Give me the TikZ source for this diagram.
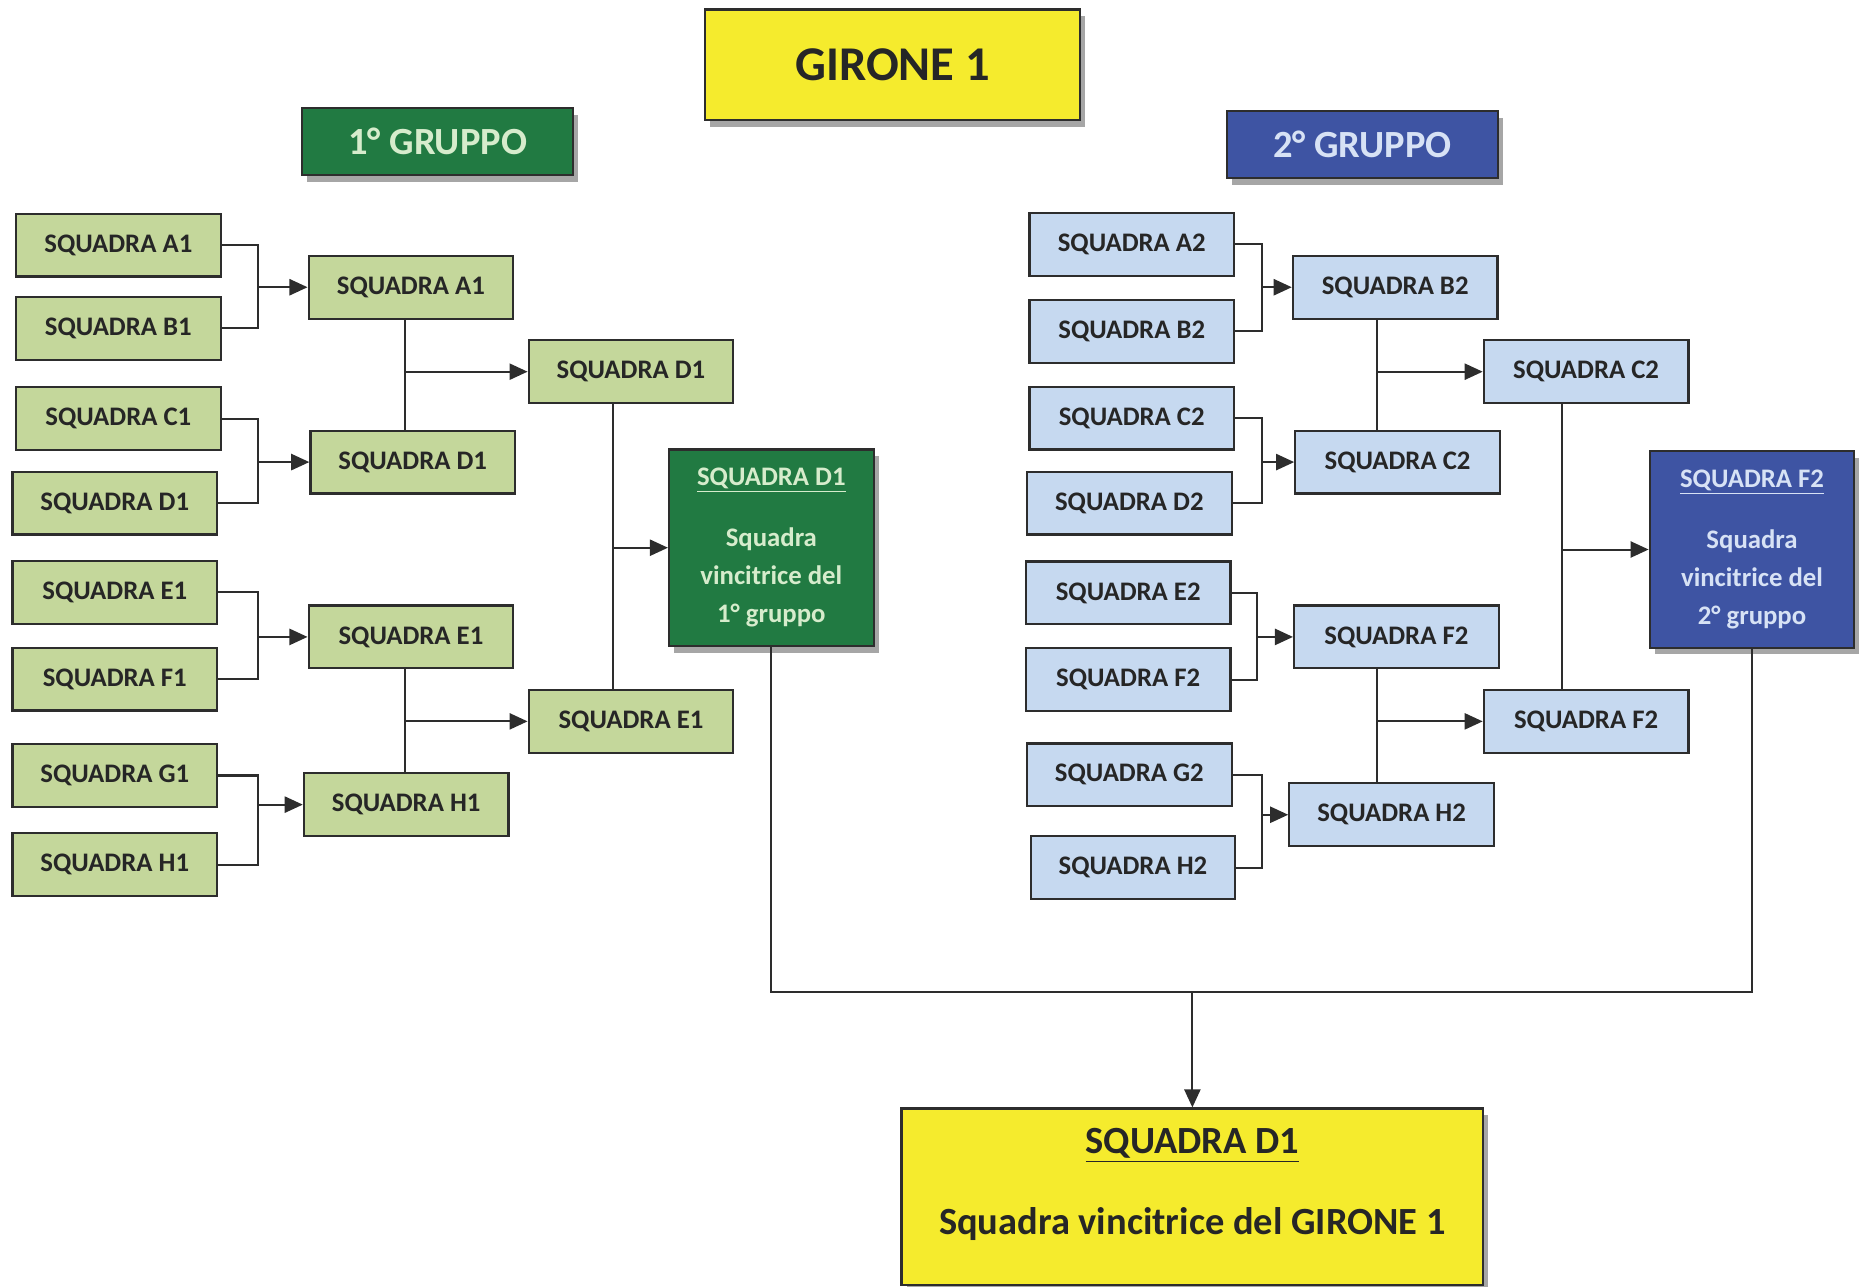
\documentclass[tikz,border=0pt]{standalone}
\usepackage{fontspec}
\setmainfont{Carlito}
\usetikzlibrary{arrows.meta, positioning, calc, shadows}
\definecolor{greenlight}{RGB}{196,215,155}
\definecolor{greendark}{RGB}{33,122,66}
\definecolor{bluelight}{RGB}{198,217,240}
\definecolor{bluedark}{RGB}{62,84,163}
\definecolor{titleyellow}{RGB}{245,235,45}
\definecolor{edgegray}{RGB}{45,45,45}
\definecolor{greentext}{RGB}{214,236,204}
\definecolor{bluetext}{RGB}{215,226,245}

\begin{document}
\begin{tikzpicture}[
        x=0.025cm, y=-0.025cm,
        box/.style={rectangle, draw=edgegray, line width=1.3pt, minimum width=4.3cm, minimum height=1.32cm, inner sep=0pt, align=center, font=\fontsize{16}{22.7}\selectfont\bfseries, text=black!85},
        boxg/.style={box, fill=greenlight},
        boxb/.style={box, fill=bluelight},
        winner/.style={box, minimum height=4.13cm, drop shadow={shadow xshift=3pt, shadow yshift=-4pt, fill=black, opacity=.35}},
        header/.style={box, minimum width=5.7cm, minimum height=1.4cm, font=\fontsize{23}{28}\selectfont\bfseries, drop shadow={shadow xshift=3pt, shadow yshift=-4pt, fill=black, opacity=.35}},
        link/.style={draw=edgegray, line width=1.2pt},
        arr/.style={link, -{Triangle[length=0.38cm, width=0.34cm]}}
    ]
        \useasboundingbox (0,0) rectangle (1568,1082);

        % titles
        \node[header, fill=titleyellow, minimum width=7.875cm, minimum height=2.325cm, font=\fontsize{29}{34}\selectfont\bfseries] (girone) at (750.5,54.5) {GIRONE 1};
        \node[header, fill=greendark, text=greentext] (gruppo1) at (368,119) {1° GRUPPO};
        \node[header, fill=bluedark, text=bluetext] (gruppo2) at (1145.5,121.5) {2° GRUPPO};

        % 1 gruppo
        \node[boxg] (la1) at (99.5,206) {SQUADRA A1};
        \node[boxg] (lb1) at (99.5,276) {SQUADRA B1};
        \node[boxg] (lc1) at (99.5,352) {SQUADRA C1};
        \node[boxg] (ld1) at (96.5,423) {SQUADRA D1};
        \node[boxg] (le1) at (96.5,498) {SQUADRA E1};
        \node[boxg] (lf1) at (96.5,571) {SQUADRA F1};
        \node[boxg] (lg1) at (96.5,652) {SQUADRA G1};
        \node[boxg] (lh1) at (96.5,727) {SQUADRA H1};

        \node[boxg] (ma1) at (345.5,241.5) {SQUADRA A1};
        \node[boxg] (md1) at (347,388.5) {SQUADRA D1};
        \node[boxg] (me1) at (345.5,535.5) {SQUADRA E1};
        \node[boxg] (mh1) at (341.5,676.5) {SQUADRA H1};

        \node[boxg] (nd1) at (530.5,312.5) {SQUADRA D1};
        \node[boxg] (ne1) at (530.5,606.5) {SQUADRA E1};

        \node[winner, fill=greendark, text=greentext] (vinc1) at (648.5,460.5) {\underline{SQUADRA D1}\\[14pt]Squadra\\vincitrice del\\1° gruppo};

        % 2 gruppo
        \node[boxb] (ra2) at (951.5,205.5) {SQUADRA A2};
        \node[boxb] (rb2) at (951.5,278.5) {SQUADRA B2};
        \node[boxb] (rc2) at (951.5,351.5) {SQUADRA C2};
        \node[boxb] (rd2) at (949.5,423) {SQUADRA D2};
        \node[boxb] (re2) at (948.5,498.5) {SQUADRA E2};
        \node[boxb] (rf2) at (948.5,571.5) {SQUADRA F2};
        \node[boxb] (rg2) at (949.5,651.5) {SQUADRA G2};
        \node[boxb] (rh2) at (952.5,729.5) {SQUADRA H2};

        \node[boxb] (sb2) at (1173,241.5) {SQUADRA B2};
        \node[boxb] (sc2) at (1175,388.5) {SQUADRA C2};
        \node[boxb] (sf2) at (1174,535.5) {SQUADRA F2};
        \node[boxb] (sh2) at (1170,685) {SQUADRA H2};

        \node[boxb] (tc2) at (1333.5,312.5) {SQUADRA C2};
        \node[boxb] (tf2) at (1333.5,606.5) {SQUADRA F2};

        \node[winner, fill=bluedark, text=bluetext] (vinc2) at (1473,462) {\underline{SQUADRA F2}\\[14pt]Squadra\\vincitrice del\\2° gruppo};

        % finale
        \node[header, fill=titleyellow, minimum width=12.225cm, minimum height=3.7cm, text depth=18pt] (finale) at (1002.5,1006) {\underline{SQUADRA D1}\\[20pt]Squadra vincitrice del GIRONE 1};

        % guide lines
        \coordinate (bl) at (217,0);
        \coordinate (vl2) at (340.5,0);
        \coordinate (vl3) at (515,0);
        \coordinate (br) at (1061,0);
        \coordinate (brb) at (1057,0);
        \coordinate (vr2) at (1158,0);
        \coordinate (vr3) at (1313,0);
        \coordinate (base) at (0,834);

        % left brackets
        \draw[link] (la1.east) -- (la1.east -| bl) -- (lb1.east -| bl) -- (lb1.east);
        \draw[arr] (bl |- ma1.west) -- (ma1.west);
        \draw[link] (lc1.east) -- (lc1.east -| bl) -- (ld1.east -| bl) -- (ld1.east);
        \draw[arr] (bl |- md1.west) -- (md1.west);
        \draw[link] (le1.east) -- (le1.east -| bl) -- (lf1.east -| bl) -- (lf1.east);
        \draw[arr] (bl |- me1.west) -- (me1.west);
        \draw[link] (lg1.east) -- (lg1.east -| bl) -- (lh1.east -| bl) -- (lh1.east);
        \draw[arr] (bl |- mh1.west) -- (mh1.west);

        \draw[link] (ma1.south -| vl2) -- (md1.north -| vl2);
        \draw[arr] (vl2 |- nd1.west) -- (nd1.west);
        \draw[link] (me1.south -| vl2) -- (mh1.north -| vl2);
        \draw[arr] (vl2 |- ne1.west) -- (ne1.west);

        \draw[link] (nd1.south -| vl3) -- (ne1.north -| vl3);
        \draw[arr] (vl3 |- vinc1.west) -- (vinc1.west);

        % right brackets
        \draw[link] (ra2.east) -- (ra2.east -| br) -- (rb2.east -| br) -- (rb2.east);
        \draw[arr] (br |- sb2.west) -- (sb2.west);
        \draw[link] (rc2.east) -- (rc2.east -| br) -- (rd2.east -| br) -- (rd2.east);
        \draw[arr] (br |- sc2.west) -- (sc2.west);
        \draw[link] (re2.east) -- (re2.east -| brb) -- (rf2.east -| brb) -- (rf2.east);
        \draw[arr] (brb |- sf2.west) -- (sf2.west);
        \draw[link] (rg2.east) -- (rg2.east -| br) -- (rh2.east -| br) -- (rh2.east);
        \draw[arr] (br |- sh2.west) -- (sh2.west);

        \draw[link] (sb2.south -| vr2) -- (sc2.north -| vr2);
        \draw[arr] (vr2 |- tc2.west) -- (tc2.west);
        \draw[link] (sf2.south -| vr2) -- (sh2.north -| vr2);
        \draw[arr] (vr2 |- tf2.west) -- (tf2.west);

        \draw[link] (tc2.south -| vr3) -- (tf2.north -| vr3);
        \draw[arr] (vr3 |- vinc2.west) -- (vinc2.west);

        % to the final
        \draw[link] (vinc1.south) |- (vinc2.south |- base) -- (vinc2.south);
        \draw[arr] (finale.north |- base) -- (finale.north);
    \end{tikzpicture}
\end{document}
